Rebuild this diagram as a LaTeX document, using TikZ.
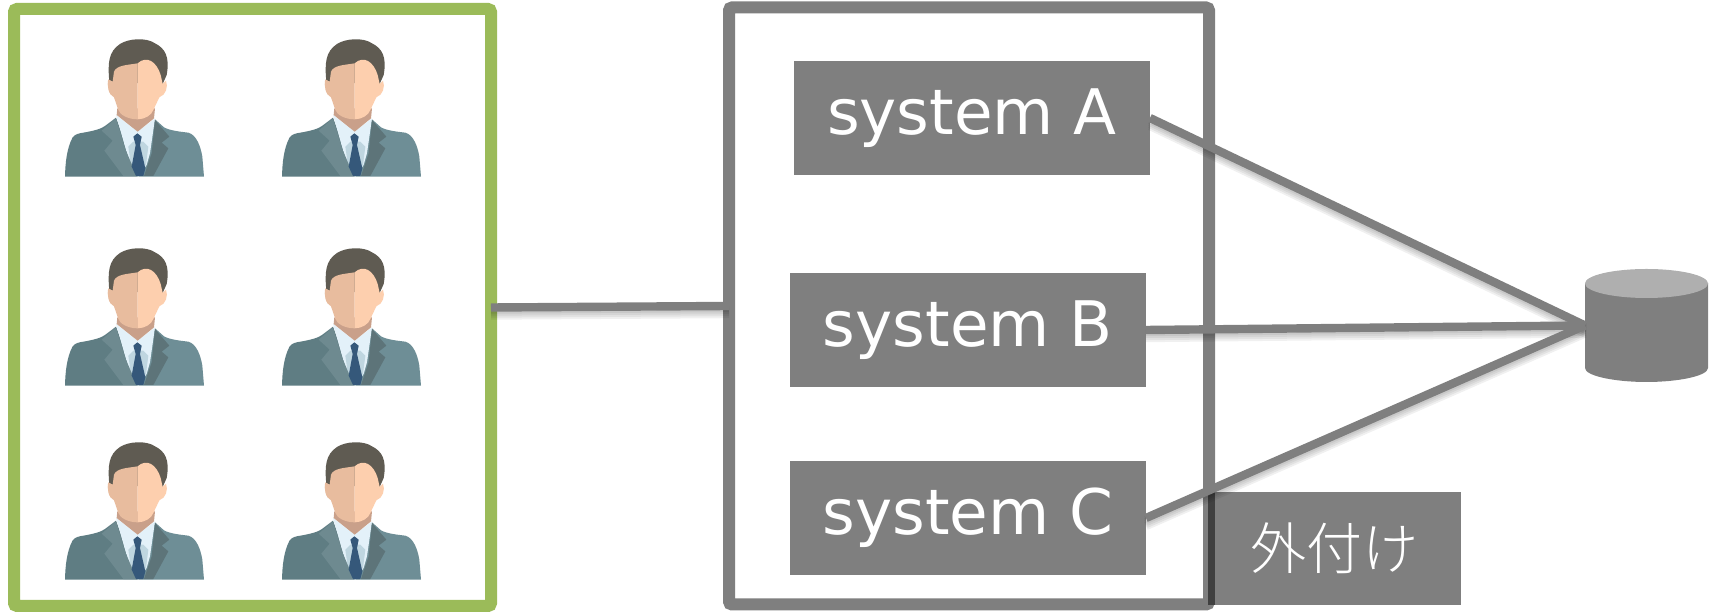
\documentclass[tikz,border=0pt]{standalone}
\usepackage{fontspec}
\setsansfont{DejaVu Sans}
\newfontfamily\cjk{Noto Sans CJK JP Light}
\definecolor{gr}{HTML}{7F7F7F}
\definecolor{lime}{HTML}{9BBB59}
\definecolor{dk}{HTML}{404040}
\definecolor{hair}{HTML}{5F5B52}
\definecolor{skinl}{HTML}{E8BC9E}
\definecolor{skinr}{HTML}{FDCFAE}
\definecolor{neck}{HTML}{C9A08A}
\definecolor{shirt}{HTML}{E3F1F9}
\definecolor{shirtd}{HTML}{BFD6E0}
\definecolor{tie}{HTML}{35587A}
\definecolor{suitl}{HTML}{5F7D83}
\definecolor{suitr}{HTML}{6E8E96}
\definecolor{lapl}{HTML}{6E8A90}
\definecolor{lapr}{HTML}{5D7479}
\definecolor{dbtop}{HTML}{AFAFAF}
\tikzset{
  x=0.5pt,y=-0.5pt,
  every node/.style={outer sep=0pt,inner sep=0pt},
  frame/.style={draw,line width=6pt,rounded corners=1.5pt,fill=white},
  sysbox/.style={fill=gr,text=white,minimum width=178pt,minimum height=57pt,font=\sffamily\fontsize{31.4}{31.4}\selectfont},
  extbox/.style={fill=gr,text=white,minimum width=126.5pt,minimum height=56.5pt,font=\cjk\fontsize{28}{28}\selectfont},
  wire/.style={draw=gr,line width=4.2pt},
  shade1/.style={draw=black,line width=4.2pt,opacity=.06}
}
\newcommand{\manfig}[2]{%
 \begin{scope}[shift={(#1,#2)},x=0.16667pt,y=-0.16667pt]
  \fill[suitl] (75,470) .. controls (76,430) and (80,385) .. (98,352) .. controls (105,342) and (118,340) .. (130,338) .. controls (160,333) and (185,326) .. (195,318) -- (228,293) -- (293,470) -- cycle;
  \fill[suitr] (293,470) -- (345,298) -- (372,322) .. controls (390,332) and (420,335) .. (445,338) .. controls (470,345) and (482,380) .. (487,410) -- (492,470) -- cycle;
  \fill[shirt] (228,285) -- (293,335) -- (345,295) -- (330,400) -- (320,435) -- (295,470) -- (270,430) -- (255,380) -- cycle;
  \fill[shirtd] (265,380) -- (280,365) -- (310,365) -- (325,380) -- (318,435) -- (295,455) -- (272,430) -- cycle;
  \fill[lapl] (228,295) -- (185,332) -- (218,362) -- (193,392) -- (250,468) -- (290,468) -- (255,385) -- cycle;
  \fill[lapr] (345,300) -- (388,350) -- (365,368) -- (385,385) -- (340,468) -- (312,468) -- (335,400) -- cycle;
  \fill[tie] (280,350) -- (292,340) -- (305,350) -- (300,375) -- (316,445) -- (310,468) -- (288,468) -- (275,440) -- (287,375) -- cycle;
  \fill[neck] (232,265) -- (345,265) -- (342,295) -- (293,335) -- (230,285) -- cycle;
  \fill[hair] (208,185) .. controls (203,130) and (205,95) .. (240,72) .. controls (265,55) and (320,52) .. (345,70) .. controls (375,85) and (390,110) .. (380,165) -- (368,192) -- (300,190) -- cycle;
  \fill[skinl] (293,130) -- (293,298) .. controls (265,298) and (240,285) .. (235,270) -- (222,232) .. controls (205,225) and (200,195) .. (205,178) -- (218,185) -- (222,155) .. controls (230,135) and (265,135) .. (293,130) -- cycle;
  \fill[skinr] (293,130) -- (293,298) .. controls (315,298) and (335,285) .. (340,270) -- (358,232) .. controls (378,225) and (385,200) .. (378,182) -- (368,192) -- (362,165) .. controls (350,125) and (320,105) .. (293,130) -- cycle;
 \end{scope}}
\begin{document}
\begin{tikzpicture}
\useasboundingbox (0,0) rectangle (1719,613);
\node[frame,draw=lime,minimum width=238.5pt,minimum height=298.5pt] (left) at (252.5,307.5) {};
\foreach \px in {40,257}{\foreach \py in {20,229,423}{\manfig{\px}{\py}}}
\node[frame,draw=gr,minimum width=240pt,minimum height=298.5pt] (mid) at (969,306) {};
\node[sysbox] (a) at (972,118) {\raisebox{.5pt}{system A}};
\node[sysbox] (b) at (968,330) {\raisebox{.5pt}{system B}};
\node[sysbox] (c) at (968,518) {\raisebox{.5pt}{system C}};
\node[extbox] (ext) at (1334.5,548.5) {\raisebox{2pt}{外付け}};
\fill[dk] (1208,492) rectangle (1215,605);
\node[minimum width=61.5pt,minimum height=56.5pt] (db) at (1646.5,325.5) {};
\fill[gr] (1585,283) -- (1585,368) .. controls (1585,376) and (1615,382) .. (1646.5,382) .. controls (1678,382) and (1708,376) .. (1708,368) -- (1708,283) -- cycle;
\fill[dbtop] (1646.5,283.5) ellipse [x radius=61.5,y radius=14.5];
\foreach \s in {a,b,c}{\foreach \o in {1,2,3,4}{
  \draw[shade1] ([yshift=-\o pt]\s.east) -- ([yshift=-\o pt]db.west);}}
\foreach \o in {1,2,3,4}{\draw[shade1] ([yshift=-\o pt]left.east) -- ([yshift=-\o pt]mid.west);}
\draw[wire] (a.east) -- (db.west);
\draw[wire] (b.east) -- (db.west);
\draw[wire] (c.east) -- (db.west);
\draw[wire] (left.east) -- (mid.west);
\end{tikzpicture}
\end{document}
